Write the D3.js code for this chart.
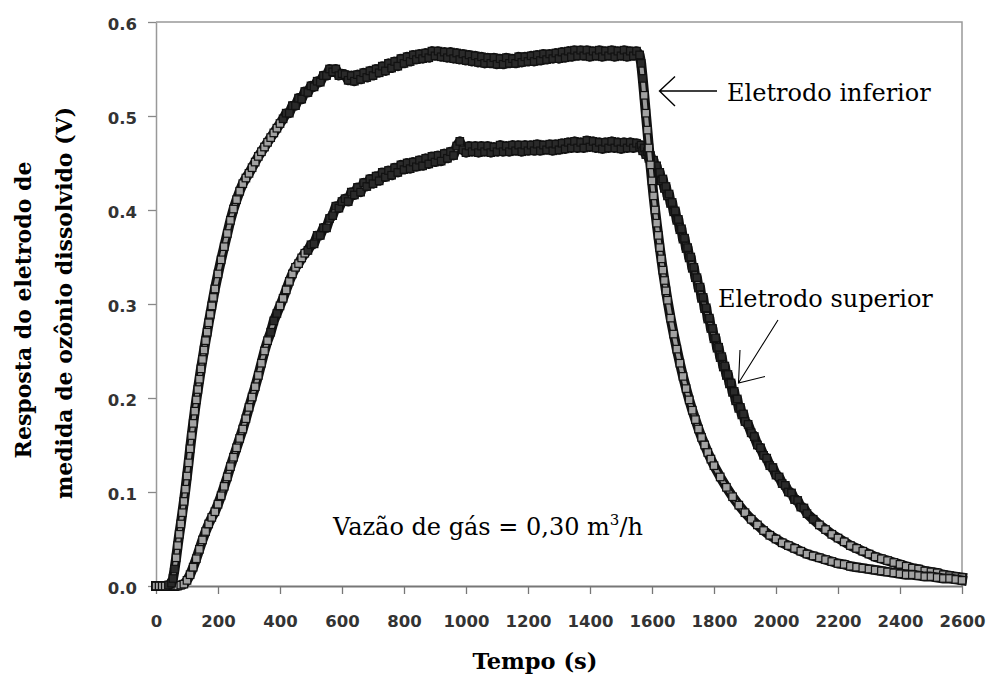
<!DOCTYPE html>
<html><head><meta charset="utf-8">
<script src="https://cdn.jsdelivr.net/npm/d3@7"></script>
<style>body{margin:0;background:#fff;}svg{display:block;}</style>
</head><body>
<svg id="chart" width="987" height="684"></svg>
<script>
// ---------- data (time in s, response in V) ----------
const xTicks = [0,200,400,600,800,1000,1200,1400,1600,1800,2000,2200,2400,2600];
const yTicks = [0,0.1,0.2,0.3,0.4,0.5,0.6];

const eletrodoInferior = [
[0,0],[10,0],[20,0],[30,0],[40,0.001],[50,0.003],
[55,0.008],[60,0.018],[65,0.03],[70,0.043],[75,0.055],[80,0.066],[85,0.078],[90,0.09],[95,0.103],[100,0.117],[105,0.131],[110,0.146],[115,0.16],[120,0.173],[125,0.186],[130,0.198],[135,0.209],[140,0.22],[145,0.231],[150,0.241],[155,0.251],[160,0.261],[165,0.27],[170,0.28],[175,0.289],[180,0.298],[185,0.307],
[190,0.316],[200,0.332],[210,0.347],[220,0.361],[230,0.375],[240,0.389],[250,0.401],[260,0.411],[270,0.42],[280,0.428],[290,0.434],[300,0.439],[310,0.445],[320,0.451],[330,0.457],[340,0.462],[350,0.467],[360,0.472],[370,0.477],[380,0.482],[390,0.487],[400,0.492],[410,0.497],[420,0.503],[430,0.503],[440,0.511],[450,0.511],[460,0.519],[470,0.518],[480,0.526],[490,0.525],[500,0.532],[510,0.531],[520,0.537],[530,0.536],[540,0.543],[550,0.543],[560,0.550],[570,0.547],[580,0.550],[590,0.543],[600,0.545],
[610,0.544],[620,0.538],[630,0.543],[640,0.537],[650,0.544],[660,0.539],[670,0.546],[680,0.541],[690,0.548],[700,0.543],[710,0.550],[720,0.546],[730,0.553],[740,0.548],[750,0.556],[760,0.551],[770,0.558],[780,0.553],[790,0.561],[800,0.556],[810,0.563],[820,0.558],[830,0.565],[840,0.560],[850,0.566],[860,0.561],[870,0.567],[880,0.562],[890,0.569],[900,0.564],[910,0.569],[920,0.563],[930,0.568],[940,0.562],[950,0.568],[960,0.561],[970,0.567],[980,0.560],[990,0.566],[1000,0.559],[1010,0.565],[1020,0.558],[1030,0.564],[1040,0.557],[1050,0.563],[1060,0.556],[1070,0.562],[1080,0.556],[1090,0.562],[1100,0.555],[1110,0.561],[1120,0.555],[1130,0.562],[1140,0.556],[1150,0.561],[1160,0.556],[1170,0.563],[1180,0.557],[1190,0.563],[1200,0.558],[1210,0.564],[1220,0.558],[1230,0.565],[1240,0.559],[1250,0.566],[1260,0.560],[1270,0.566],[1280,0.561],[1290,0.567],[1300,0.561],[1310,0.568],[1320,0.562],[1330,0.569],[1340,0.563],[1350,0.570],[1360,0.564],[1370,0.570],[1380,0.564],[1390,0.570],[1400,0.563],[1410,0.569],[1420,0.564],[1430,0.570],[1440,0.563],[1450,0.569],[1460,0.564],[1470,0.570],[1480,0.563],[1490,0.569],[1500,0.564],[1510,0.570],[1520,0.563],[1530,0.569],[1540,0.564],[1550,0.569],[1560,0.565],
[1565,0.556],[1570,0.54],[1575,0.522],[1580,0.503],[1585,0.485],[1590,0.466],[1595,0.448],[1600,0.431],[1605,0.415],[1610,0.4],[1615,0.386],[1620,0.373],[1625,0.36],[1630,0.348],[1635,0.336],[1640,0.325],[1645,0.314],[1650,0.304],
[1660,0.285],[1670,0.268],[1680,0.252],[1690,0.237],[1700,0.223],[1710,0.21],[1720,0.198],[1730,0.187],[1740,0.177],[1750,0.167],[1760,0.158],[1770,0.15],[1780,0.142],[1790,0.135],[1800,0.128],
[1820,0.116],[1840,0.105],[1860,0.095],[1880,0.086],[1900,0.078],[1920,0.071],[1940,0.065],[1960,0.059],[1980,0.054],[2000,0.05],[2020,0.046],[2040,0.043],[2060,0.04],[2080,0.037],[2100,0.034],[2120,0.032],[2140,0.03],[2160,0.028],[2180,0.026],[2200,0.024],[2220,0.023],[2240,0.021],[2260,0.02],[2280,0.019],[2300,0.018],[2320,0.017],[2340,0.016],[2360,0.015],[2380,0.014],[2400,0.013],[2420,0.012],[2440,0.012],[2460,0.011],[2480,0.01],[2500,0.01],[2520,0.009],[2540,0.008],[2560,0.008],[2580,0.007],[2600,0.006]
];

const eletrodoSuperior = [
[0,0],[10,0],[20,0],[30,0],[40,0],[50,0],[60,0],[70,0],[80,0.001],[90,0.002],[100,0.006],[110,0.012],[120,0.02],[130,0.029],[140,0.039],[150,0.049],[160,0.058],[170,0.066],[180,0.073],[190,0.079],[200,0.087],[210,0.096],[220,0.106],[230,0.116],[240,0.127],[250,0.137],[260,0.147],[270,0.157],[280,0.167],[290,0.178],[300,0.19],[310,0.201],[320,0.212],[330,0.224],[340,0.237],[350,0.25],[360,0.261],[370,0.27],[380,0.282],[390,0.29],[400,0.298],[410,0.306],[420,0.315],[430,0.324],[440,0.332],[450,0.339],[460,0.343],[470,0.349],[480,0.354],[490,0.357],[500,0.363],[510,0.364],[520,0.373],[530,0.373],[540,0.381],[550,0.381],[560,0.391],[570,0.394],[580,0.404],[590,0.402],[600,0.409],
[610,0.412],[620,0.409],[630,0.419],[640,0.416],[650,0.424],[660,0.419],[670,0.429],[680,0.425],[690,0.433],[700,0.428],[710,0.436],[720,0.431],[730,0.440],[740,0.435],[750,0.442],[760,0.437],[770,0.445],[780,0.440],[790,0.448],[800,0.443],[810,0.450],[820,0.444],[830,0.451],[840,0.446],[850,0.453],[860,0.447],[870,0.455],[880,0.449],[890,0.457],[900,0.451],[910,0.458],[920,0.452],[930,0.460],[940,0.455],[950,0.462],[960,0.458],[970,0.468],[980,0.473],[990,0.464],[1000,0.461],[1010,0.468],[1020,0.462],[1030,0.468],[1040,0.461],[1050,0.468],[1060,0.462],[1070,0.468],[1080,0.461],[1090,0.467],[1100,0.462],[1110,0.469],[1120,0.462],[1130,0.468],[1140,0.462],[1150,0.469],[1160,0.463],[1170,0.469],[1180,0.462],[1190,0.469],[1200,0.463],[1210,0.469],[1220,0.463],[1230,0.470],[1240,0.463],[1250,0.469],[1260,0.464],[1270,0.470],[1280,0.463],[1290,0.470],[1300,0.464],[1310,0.471],[1320,0.465],[1330,0.472],[1340,0.466],[1350,0.473],[1360,0.466],[1370,0.472],[1380,0.466],[1390,0.474],[1400,0.467],[1410,0.473],[1420,0.466],[1430,0.472],[1440,0.465],[1450,0.472],[1460,0.466],[1470,0.473],[1480,0.466],[1490,0.472],[1500,0.465],[1510,0.472],[1520,0.466],[1530,0.472],[1540,0.466],[1550,0.471],[1560,0.467],
[1565,0.469],[1570,0.463],[1575,0.466],[1580,0.459],[1585,0.462],[1590,0.455],[1595,0.458],[1600,0.45],[1605,0.453],[1610,0.444],[1615,0.447],[1620,0.438],[1625,0.44],[1630,0.431],[1635,0.433],[1640,0.423],[1645,0.425],[1650,0.415],[1655,0.417],[1660,0.407],[1665,0.408],[1670,0.398],[1675,0.399],[1680,0.389],[1685,0.39],[1690,0.379],[1695,0.38],[1700,0.369],[1705,0.37],[1710,0.359],[1715,0.36],[1720,0.349],[1725,0.35],[1730,0.338],[1735,0.339],[1740,0.328],[1745,0.328],[1750,0.317],[1755,0.318],[1760,0.306],[1765,0.307],[1770,0.295],[1775,0.296],[1780,0.284],[1785,0.285],[1790,0.274],[1795,0.274],[1800,0.263],[1805,0.264],[1810,0.253],[1815,0.254],[1820,0.243],[1825,0.244],[1830,0.233],[1835,0.234],[1840,0.224],[1845,0.225],[1850,0.215],[1855,0.216],[1860,0.206],[1865,0.207],[1870,0.197],[1875,0.199],[1880,0.189],[1885,0.19],[1890,0.182],[1895,0.183],[1900,0.175],
[1910,0.172],[1920,0.163],[1930,0.159],[1940,0.15],[1950,0.147],[1960,0.139],[1970,0.136],[1980,0.128],[1990,0.126],[2000,0.118],[2010,0.116],[2020,0.109],[2030,0.107],[2040,0.1],[2050,0.099],[2060,0.092],[2070,0.091],[2080,0.084],[2090,0.083],[2100,0.077],
[2120,0.071],[2140,0.065],[2160,0.06],[2180,0.055],[2200,0.051],[2220,0.047],[2240,0.043],[2260,0.04],[2280,0.037],[2300,0.034],[2320,0.031],[2340,0.029],[2360,0.027],[2380,0.025],[2400,0.023],[2420,0.021],[2440,0.019],[2460,0.018],[2480,0.016],[2500,0.015],[2520,0.014],[2540,0.012],[2560,0.011],[2580,0.01],[2600,0.009]
];

// ---------- drawing ----------
const svg = d3.select("#chart");
const x = d3.scaleLinear().domain([0,2600]).range([156,962]);
const y = d3.scaleLinear().domain([0,0.6]).range([586,22]);

// frame (top/right)
svg.append("path")
  .attr("d", `M${x(0)},${y(0.6)}H${x(2600)}V${y(0)}`)
  .attr("fill","none").attr("stroke","#999").attr("stroke-width",1.5);

// y axis
const yAxis = svg.append("g").attr("transform",`translate(${x(0)},0)`)
  .call(d3.axisLeft(y).tickValues(yTicks).tickFormat(d3.format(".1f")).tickSize(8).tickSizeOuter(0).tickPadding(11));
yAxis.select(".domain").attr("stroke","#999").attr("stroke-width",1.5);
yAxis.selectAll(".tick line").attr("stroke","#888").attr("stroke-width",1.3);
yAxis.selectAll(".tick text").attr("fill","#333").attr("font-family","DejaVu Sans").attr("font-weight","bold").attr("font-size",16.5).attr("dy","0.45em");

// x axis
const xAxis = svg.append("g").attr("transform",`translate(0,${y(0)})`)
  .call(d3.axisBottom(x).tickValues(xTicks).tickFormat(d3.format("d")).tickSize(8).tickSizeOuter(0).tickPadding(21));
xAxis.select(".domain").attr("stroke","#777").attr("stroke-width",2);
xAxis.selectAll(".tick line").attr("stroke","#777").attr("stroke-width",1.3);
xAxis.selectAll(".tick text").attr("fill","#333").attr("font-family","DejaVu Sans").attr("font-weight","bold").attr("font-size",16.5);

// series: dense square markers. Where the signal is noisy the overlapping
// marker outlines merge to black, as in the original instrument plot.
const line = d3.line().x(d => x(d[0])).y(d => y(d[1]));
function noise(data){
  const r = data.map((d,i) => {
    if (i === 0 || i === data.length-1) return 0;
    const a = data[i-1], b = data[i+1];
    const e = a[1] + (b[1]-a[1]) * (d[0]-a[0]) / (b[0]-a[0]);
    return Math.abs(y(d[1]) - y(e));
  });
  return r.map((v,i) => Math.max(v, r[i-1] || 0, r[i+1] || 0));
}
function drawSeries(data){
  const g = svg.append("g");
  g.append("path").datum(data).attr("d", line)
    .attr("fill","none").attr("stroke","#111").attr("stroke-width",10)
    .attr("stroke-linejoin","round").attr("stroke-linecap","square");
  g.append("path").datum(data).attr("d", line)
    .attr("fill","none").attr("stroke","#9a9a9a").attr("stroke-width",4)
    .attr("stroke-linejoin","round");
  const rough = noise(data);
  const s = 7.5;
  g.selectAll("rect").data(data).join("rect")
    .attr("x", d => x(d[0]) - s/2)
    .attr("y", d => y(d[1]) - s/2)
    .attr("width", s).attr("height", s)
    .attr("fill", (d,i) => rough[i] > 1.8 ? "#2a2a2a" : "#a2a2a2")
    .attr("stroke","#111").attr("stroke-width",1.2);
}
drawSeries(eletrodoSuperior);
drawSeries(eletrodoInferior);

// axis titles
svg.append("text").attr("x",535).attr("y",669).attr("text-anchor","middle")
  .attr("font-family","DejaVu Serif").attr("font-weight","bold").attr("font-size",22.5).attr("fill","#000")
  .text("Tempo (s)");
const yt = svg.append("g").attr("font-family","DejaVu Serif").attr("font-weight","bold").attr("font-size",22).attr("fill","#000").attr("text-anchor","middle");
yt.append("text").attr("transform","translate(31,310) rotate(-90)").text("Resposta do eletrodo de");
yt.append("text").attr("transform","translate(72,303) rotate(-90)").text("medida de ozônio dissolvido (V)");

// annotations
const ann = svg.append("g").attr("font-family","DejaVu Serif").attr("font-size",24).attr("fill","#000");
ann.append("text").attr("x",727).attr("y",101).text("Eletrodo inferior");
ann.append("text").attr("x",718).attr("y",307).text("Eletrodo superior");
const vz = ann.append("text").attr("x",333).attr("y",535);
vz.append("tspan").text("Vazão de gás = 0,30 m");
vz.append("tspan").attr("font-size",15).attr("dy",-10).text("3");
vz.append("tspan").attr("dy",10).text("/h");

// arrows
const arr = svg.append("g").attr("fill","none").attr("stroke","#000").attr("stroke-width",1.4);
arr.append("path").attr("d","M717,91H659.5M675,76.5L659.5,91L675,106");
arr.append("path").attr("d","M778,320L738.5,383M740,350L738.5,383L765,376.5").attr("stroke-width",1.1);
</script>
</body></html>
